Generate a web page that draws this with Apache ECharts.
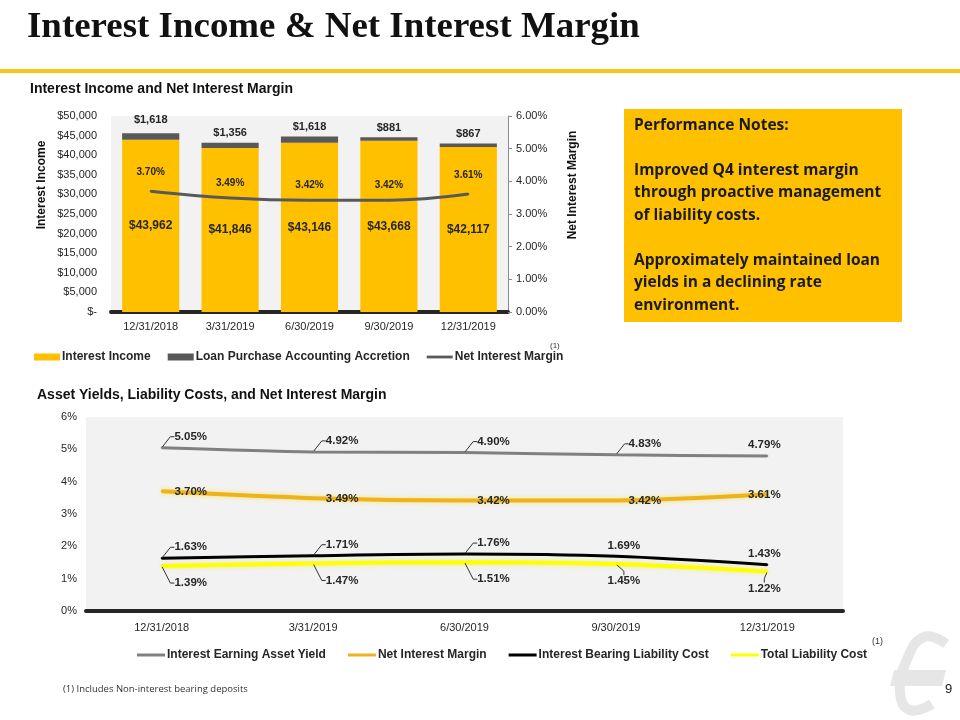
<!DOCTYPE html>
<html>
<head>
<meta charset="utf-8">
<title>Interest Income & Net Interest Margin</title>
<script src="https://cdn.jsdelivr.net/npm/echarts/dist/echarts.min.js"></script>
<style>
	html, body { margin: 0; padding: 0; background: #fff; }
	#page { width: 960px; height: 720px; }
</style>
</head>
<body>
<div id="page"></div>
<script>
// data
const quarters = ['12/31/2018', '3/31/2019', '6/30/2019', '9/30/2019', '12/31/2019'];
const interestIncome = [43962, 41846, 43146, 43668, 42117];
const accretion = [1618, 1356, 1618, 881, 867];
const netInterestMargin = [3.70, 3.49, 3.42, 3.42, 3.61];
const assetYield = [5.05, 4.92, 4.90, 4.83, 4.79];
const bearingLiabilityCost = [1.63, 1.71, 1.76, 1.69, 1.43];
const totalLiabilityCost = [1.39, 1.47, 1.51, 1.45, 1.22];
const noteLines = [
	'Performance Notes:',
	'',
	'Improved Q4 interest margin',
	'through proactive management',
	'of liability costs.',
	'',
	'Approximately maintained loan',
	'yields in a declining rate',
	'environment.'
];

const SANS = '"Liberation Sans", Arial, sans-serif';
const TXT = '#262626';
const GOLD = '#FFC000';
const thinIcon = 'path://M0,2H28V5H0Z';

const money = v => v === 0 ? '$-' : '$' + v.toLocaleString('en-US');

// label placement for the lower chart (offset from the point)
function yieldLabel(dy, nearDx) {
	return params => {
		let i = params.dataIndex;
		let dx = i === 4 ? -3 : (i === 3 && nearDx != null ? nearDx : 29);
		return { dx: dx, dy: dy };
	};
}

function yieldSeries(name, values, color, width, dy, leaders, nearDx, glow) {
	return {
		name: name,
		type: 'line',
		xAxisIndex: 1,
		yAxisIndex: 2,
		smooth: 0.3,
		symbol: 'circle',
		symbolSize: 2,
		itemStyle: { color: color },
		lineStyle: {
			color: color,
			width: width,
			shadowColor: glow || 'transparent',
			shadowBlur: glow ? 4 : 0
		},
		label: {
			show: true,
			position: 'inside',
			color: TXT,
			fontFamily: SANS,
			fontWeight: 'bold',
			fontSize: 11.5,
			formatter: p => p.value.toFixed(2) + '%'
		},
		labelLayout: yieldLabel(dy, nearDx),
		labelLine: { show: true, lineStyle: { color: '#333', width: 1 }, length2: 4 },
		data: values.map((v, i) => ({ value: v, labelLine: { show: !!leaders[i] } })),
		z: 3
	};
}

const chart = echarts.init(document.getElementById('page'));

const option = {
	backgroundColor: '#fff',
	animation: false,
	textStyle: { fontFamily: SANS },
	grid: [
		{ left: 111, right: 452, top: 116, bottom: 408, show: true, backgroundColor: '#F2F2F2', borderWidth: 0 },
		{ left: 86, right: 117, top: 417, bottom: 109, show: true, backgroundColor: '#F2F2F2', borderWidth: 0 }
	],
	xAxis: [
		{
			type: 'category', gridIndex: 0, data: quarters,
			axisLine: { lineStyle: { color: '#262626', width: 4 } },
			axisTick: { show: false },
			axisLabel: { color: TXT, fontSize: 11, margin: 9 }
		},
		{
			type: 'category', gridIndex: 1, data: quarters,
			axisLine: { lineStyle: { color: '#262626', width: 4 } },
			axisTick: { show: false },
			axisLabel: { color: TXT, fontSize: 11, margin: 11 }
		}
	],
	yAxis: [
		{
			type: 'value', gridIndex: 0, min: 0, max: 50000, interval: 5000,
			splitLine: { show: false },
			axisLine: { show: false },
			axisTick: { show: false },
			axisLabel: { color: TXT, fontSize: 11, margin: 14, formatter: money }
		},
		{
			type: 'value', gridIndex: 0, position: 'right', min: 0, max: 6, interval: 1,
			splitLine: { show: false },
			axisLine: { show: true, lineStyle: { color: '#8c8c8c', width: 1 } },
			axisTick: { show: true, length: 4, lineStyle: { color: '#8c8c8c' } },
			axisLabel: { color: TXT, fontSize: 11, margin: 8, formatter: v => v.toFixed(2) + '%' }
		},
		{
			type: 'value', gridIndex: 1, min: 0, max: 6, interval: 1,
			splitLine: { show: false },
			axisLine: { show: false },
			axisTick: { show: false },
			axisLabel: { color: TXT, fontSize: 11, margin: 9, formatter: '{value}%' }
		}
	],
	legend: [
		{
			left: 34, top: 351, padding: 0,
			itemWidth: 26, itemHeight: 7, itemGap: 17,
			textStyle: { color: TXT, fontSize: 12, fontWeight: 'bold', fontFamily: SANS, padding: [0, 0, 0, -3] },
			data: [
				{ name: 'Interest Income', icon: 'rect' },
				{ name: 'Loan Purchase Accounting Accretion', icon: 'rect' },
				{ name: 'Net Interest Margin', icon: thinIcon, itemStyle: { color: '#595959' } }
			]
		},
		{
			left: 137, top: 649, padding: 0,
			itemWidth: 28, itemHeight: 7, itemGap: 22,
			textStyle: { color: TXT, fontSize: 12, fontWeight: 'bold', fontFamily: SANS, padding: [0, 0, 0, -3] },
			data: [
				{ name: 'Interest Earning Asset Yield', icon: thinIcon, itemStyle: { color: '#808080' } },
				{ name: 'Net Interest Margin', icon: thinIcon, itemStyle: { color: '#EDB21F' } },
				{ name: 'Interest Bearing Liability Cost', icon: thinIcon, itemStyle: { color: '#000' } },
				{ name: 'Total Liability Cost', icon: thinIcon, itemStyle: { color: '#FFFF00' } }
			]
		}
	],
	series: [
		{
			name: 'Interest Income',
			type: 'bar', stack: 'income', barWidth: '72%',
			itemStyle: { color: GOLD },
			label: {
				show: true, position: 'inside', color: TXT,
				fontWeight: 'bold', fontSize: 12, formatter: p => money(p.value)
			},
			data: interestIncome
		},
		{
			name: 'Loan Purchase Accounting Accretion',
			type: 'bar', stack: 'income', barWidth: '72%',
			itemStyle: { color: '#595959' },
			label: {
				show: true, position: 'top', distance: 4, color: TXT,
				fontWeight: 'bold', fontSize: 11, formatter: p => money(p.value)
			},
			labelLayout: p => ({ dy: p.dataIndex === 0 ? -4 : 0 }),
			data: accretion
		},
		{
			name: 'Net Interest Margin',
			type: 'line', yAxisIndex: 1, smooth: 0.4,
			symbol: 'circle', symbolSize: 2,
			itemStyle: { color: '#595959' },
			lineStyle: { color: '#595959', width: 3 },
			label: {
				show: true, position: 'top', distance: 9, color: TXT,
				fontWeight: 'bold', fontSize: 10, formatter: p => p.value.toFixed(2) + '%'
			},
			labelLayout: p => ({ dy: (p.dataIndex === 0 || p.dataIndex === 4) ? -4 : 0 }),
			data: netInterestMargin,
			z: 4
		},
		yieldSeries('Interest Earning Asset Yield', assetYield, '#808080', 3, -11, [1, 1, 1, 1, 0], null, null),
		yieldSeries('Net Interest Margin', netInterestMargin, '#EDB21F', 4, 0.5, [0, 0, 0, 0, 0], null, 'rgba(255,225,60,0.8)'),
		yieldSeries('Interest Bearing Liability Cost', bearingLiabilityCost, '#000', 3, -11, [1, 1, 1, 0, 0], 8, null),
		yieldSeries('Total Liability Cost', totalLiabilityCost, '#FFFF00', 4, 17, [1, 1, 1, 1, 1], 8, 'rgba(240,240,80,0.7)')
	],
	graphic: [
		{
			type: 'text', x: 27, y: 10, scaleX: 1.055,
			style: { text: 'Interest Income & Net Interest Margin', font: 'bold 35px "Liberation Serif", serif', fill: '#111' }
		},
		{ type: 'rect', shape: { x: 0, y: 69, width: 960, height: 4 }, style: { fill: '#F5C518' } },
		{
			type: 'text', left: 30, top: 82,
			style: { text: 'Interest Income and Net Interest Margin', font: 'bold 14px ' + SANS, fill: '#111' }
		},
		{
			type: 'text', left: 37, top: 388,
			style: { text: 'Asset Yields, Liability Costs, and Net Interest Margin', font: 'bold 14px ' + SANS, fill: '#111' }
		},
		{
			type: 'text', x: 42, y: 185, rotation: Math.PI / 2,
			style: { text: 'Interest Income', font: 'bold 12px ' + SANS, fill: '#111', align: 'center', verticalAlign: 'middle' }
		},
		{
			type: 'text', x: 573, y: 185, rotation: Math.PI / 2,
			style: { text: 'Net Interest Margin', font: 'bold 12px ' + SANS, fill: '#111', align: 'center', verticalAlign: 'middle' }
		},
		{ type: 'text', x: 550, y: 342, style: { text: '(1)', font: '8px ' + SANS, fill: '#333' } },
		{ type: 'text', x: 872, y: 637, style: { text: '(1)', font: '9px ' + SANS, fill: '#333' } },
		{ type: 'rect', shape: { x: 624, y: 109, width: 278, height: 213 }, style: { fill: GOLD } },
		{
			type: 'text', x: 634, y: 114,
			style: {
				text: noteLines.join('\n'),
				font: 'bold 15.5px "Open Sans", "Noto Sans", sans-serif',
				lineHeight: 22.5, fill: '#1a1a1a'
			}
		},
		{
			type: 'text', x: 63, y: 684,
			style: { text: '(1) Includes Non-interest bearing deposits', font: '9.5px "Open Sans", "Noto Sans", sans-serif', fill: '#333' }
		},
		// faint logo mark in the corner
		{
			type: 'group', x: 888, y: 636, z: -1,
			children: [
				{
					type: 'polyline',
					shape: { points: [[58, 8], [36, 1], [18, 26], [12, 56], [22, 74], [44, 68]], smooth: 0.5 },
					style: { stroke: '#E6E6E6', lineWidth: 10, fill: null }
				},
				{ type: 'polygon', shape: { points: [[6, 34], [58, 34], [54, 50], [2, 50]] }, style: { fill: '#E6E6E6' } }
			]
		},
		{ type: 'text', x: 945, y: 683, style: { text: '9', font: '13px ' + SANS, fill: '#222' } }
	]
};

chart.setOption(option);
window.addEventListener('resize', () => {
	chart.resize();
});
</script>
</body>
</html>
